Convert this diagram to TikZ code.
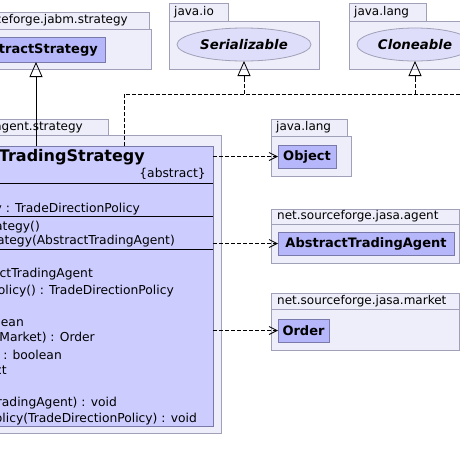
\documentclass[tikz,border=0pt]{standalone}
\usepackage{fontspec}
\setmainfont{DejaVu Sans}
\usetikzlibrary{arrows.meta,shapes.geometric}
\definecolor{pkfill}{RGB}{238,238,250}
\definecolor{pkdraw}{RGB}{160,160,184}
\definecolor{clsfill}{RGB}{204,204,255}
\definecolor{clsdraw}{RGB}{122,122,170}
\definecolor{refill}{RGB}{182,182,250}
\definecolor{elfill}{RGB}{222,222,250}
\newcommand\umlbox[6]{\node[#1, minimum width=#4pt, minimum height=#5pt] (#6) at (#2,#3) {};}
\begin{document}
\begin{tikzpicture}[x=1pt,y=-1pt,
  pk/.style={draw=pkdraw, fill=pkfill, line width=0.8pt, inner sep=0, outer sep=0, anchor=north west},
  cl/.style={draw=clsdraw, fill=clsfill, line width=0.8pt, inner sep=0, outer sep=0, anchor=north west},
  rf/.style={draw=clsdraw, fill=refill, line width=0.8pt, inner sep=0, outer sep=0, anchor=north west},
  el/.style={draw=pkdraw, fill=elfill, line width=0.8pt, ellipse, inner sep=0, outer sep=0},
  txt/.style={inner sep=0, font=\fontsize{12}{14}\selectfont},
  mtxt/.style={inner sep=0, anchor=east, font=\fontsize{12.3}{14}\selectfont},
  btxt/.style={inner sep=0, font=\fontsize{13}{15}\selectfont\bfseries},
  itxt/.style={inner sep=0, font=\fontsize{13.3}{15}\selectfont\bfseries\itshape},
  sep/.style={line width=0.8pt, black},
  dep/.style={line width=0.8pt, dash pattern=on 4pt off 2pt},
  gen/.style={line width=0.8pt, -{Triangle[open, length=15pt, width=13pt]}},
  use/.style={dep, -{Straight Barb[length=8pt, width=8pt]}}]
\useasboundingbox (0,0) rectangle (460,472);
\fill[white] (0,0) rectangle (460,472);
% package net.sourceforge.jabm.strategy
\umlbox{pk}{-40}{12}{189}{17}{pk1tab}
\umlbox{pk}{-40}{29}{191}{40}{pk1}
\umlbox{rf}{-33}{37}{138}{25}{as}
\node[txt, anchor=east] (pk1lab) at (128,20.5) {net.sourceforge.jabm.strategy};
\node[btxt, anchor=east] (aslab) at (98,49.5) {AbstractStrategy};
% package java.io
\umlbox{pk}{169}{3}{59}{18}{pk2tab}
\umlbox{pk}{169}{21}{150}{48}{pk2}
\node[txt, anchor=west] (pk2lab) at (174,12) {java.io};
\node[el, minimum width=134pt, minimum height=33pt] (ser) at (244,44.5) {};
\node[itxt] (serlab) at (ser.center) {Serializable};
% package java.lang (top)
\umlbox{pk}{349}{3}{77}{18}{pk3tab}
\umlbox{pk}{349}{21}{140}{48}{pk3}
\node[txt, anchor=west] (pk3lab) at (354,12) {java.lang};
\node[el, minimum width=116pt, minimum height=33pt] (clo) at (415,44.5) {};
\node[itxt] (clolab) at (clo.center) {Cloneable};
% package net.sourceforge.jasa.agent.strategy
\umlbox{pk}{-40}{119}{148}{16}{pk4tab}
\umlbox{pk}{-40}{135}{261}{298}{pk4}
\node[txt, anchor=east] (pk4lab) at (83,127) {net.sourceforge.jasa.agent.strategy};
\umlbox{cl}{-40}{146}{253}{280}{cls}
\draw[sep] (-40,183) -- (cls.east |- 0,183);
\draw[sep] (-40,216) -- (cls.east |- 0,216);
\draw[sep] (-40,249) -- (cls.east |- 0,249);
\node[inner sep=0, font=\fontsize{16}{18}\selectfont\bfseries, anchor=east] (clsname) at (145,157.5) {AbstractTradingStrategy};
\node[mtxt] (m0) at (206,174) {\{abstract\}};
\node[mtxt] (m1) at (140,209.5) {cy : TradeDirectionPolicy};
\node[mtxt] (m2) at (40,227) {rategy()};
\node[mtxt] (m3) at (175,241.5) {rategy(AbstractTradingAgent)};
\node[mtxt] (m4) at (93,274.5) {actTradingAgent};
\node[mtxt] (m5) at (174,291) {Policy() : TradeDirectionPolicy};
\node[mtxt] (m6) at (24,321.5) {lean};
\node[mtxt] (m7) at (95,338) {, Market) : Order};
\node[mtxt] (m8) at (62,354.5) {: boolean};
\node[mtxt] (m9) at (7,371) {ject};
\node[mtxt] (m10) at (117,403.5) {TradingAgent) : void};
\node[mtxt] (m11) at (197,419) {Policy(TradeDirectionPolicy) : void};
% package java.lang (right)
\umlbox{pk}{271}{119}{76}{17}{pk5tab}
\umlbox{pk}{271}{136}{80}{40}{pk5}
\node[txt, anchor=west] (pk5lab) at (276,127.5) {java.lang};
\umlbox{rf}{278}{145}{58}{23}{obj}
\node[btxt] (objlab) at (obj.center) {Object};
% package net.sourceforge.jasa.agent
\umlbox{pk}{271}{209}{188}{15}{pk6tab}
\umlbox{pk}{271}{224}{188}{39}{pk6}
\node[txt, anchor=west] (pk6lab) at (277,216.5) {net.sourceforge.jasa.agent};
\umlbox{rf}{278}{232}{176}{23}{ata}
\node[btxt] (atalab) at (ata.center) {AbstractTradingAgent};
% package net.sourceforge.jasa.market
\umlbox{pk}{271}{293}{188}{16}{pk7tab}
\umlbox{pk}{271}{309}{188}{41}{pk7}
\node[txt, anchor=west] (pk7lab) at (277,301) {net.sourceforge.jasa.market};
\umlbox{rf}{278}{319}{51}{23}{ord}
\node[btxt] (ordlab) at (ord.center) {Order};
% connectors
\draw[gen] (as.south |- cls.north) -- (as.south);
\coordinate (r0) at (124,146);
\coordinate (r1) at (124,94);
\coordinate (r2) at (475,94);
\draw[dep] (r0) -- (r1) -- (r2);
\draw[dep] (ser.south |- r1) -- (ser.south |- 0,78);
\draw[gen] (ser.south |- 0,79) -- (ser.south);
\draw[dep] (clo.south |- r1) -- (clo.south |- 0,78);
\draw[gen] (clo.south |- 0,79) -- (clo.south);
\draw[use] (obj.west -| cls.east) -- (obj.west);
\draw[use] (ata.west -| cls.east) -- (ata.west);
\draw[use] (ord.west -| cls.east) -- (ord.west);
\end{tikzpicture}
\end{document}
